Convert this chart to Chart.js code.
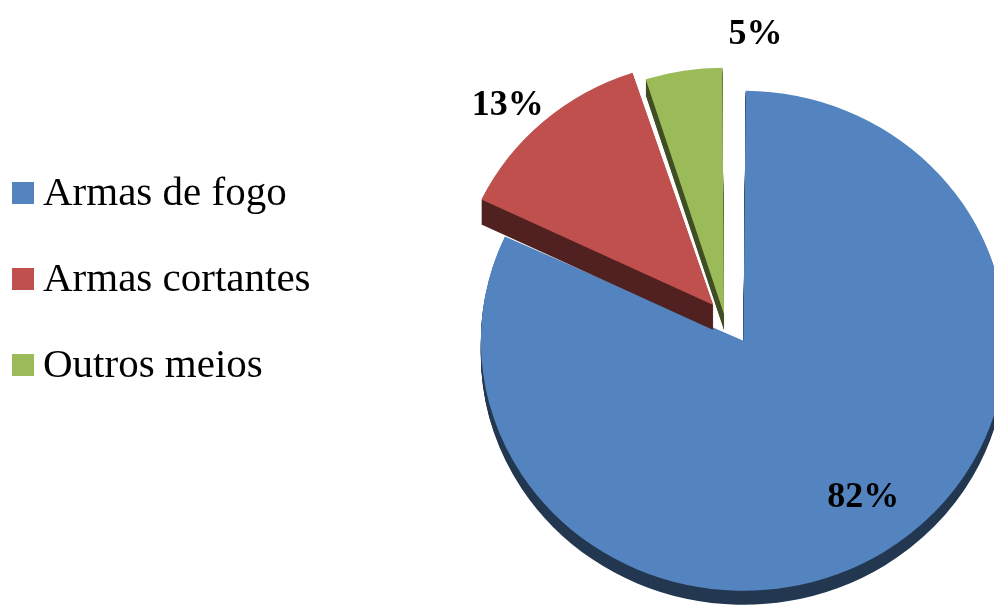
<!DOCTYPE html>
<html lang="pt">
<head>
<meta charset="utf-8">
<title>Meios utilizados</title>
<script src="https://cdn.jsdelivr.net/npm/chart.js@4.4.1/dist/chart.umd.min.js"></script>
<style>
  html, body { margin: 0; padding: 0; background: #fff; }
  #wrap { position: relative; width: 994px; height: 608px; overflow: hidden; }
  #grafico { position: absolute; left: 0; top: 0; }
  #legenda {
    position: absolute; left: 12px; top: 150px; margin: 0; padding: 0; list-style: none;
    font-family: 'Liberation Serif', 'Times New Roman', serif; font-size: 41px; color: #000;
  }
  #legenda li { display: flex; align-items: center; height: 86px; white-space: nowrap; }
  #legenda .caixa { width: 22px; height: 22px; margin-right: 9px; flex: none; }
  #legenda .txt { position: relative; top: -2px; }
</style>
</head>
<body>
<div id="wrap">
  <canvas id="grafico" width="994" height="608"></canvas>
  <ul id="legenda"></ul>
</div>
<script>
const categorias = ['Armas de fogo', 'Armas cortantes', 'Outros meios'];
const valores    = [82, 13, 5];
const cores      = ['#5484BF', '#C0504D', '#9BBB59'];

// afastamento de cada fatia (px), ajuste lateral e espessura da parede 3D
const afastamento = [14, 32, 15];
const ajusteX     = [0, 0, -9];
const espessura   = [14, 25, 16];
// rótulos: fator do raio e desvio angular em graus
const rotuloRaio   = [0.88, 1.32, 1.25];
const rotuloDesvio = [-3.5, -2.7, 12.7];

// a pizza fica um pouco achatada, como vista em perspectiva
const ESTICAR_X = 1.05;

const pizza3d = {
  id: 'pizza3d',
  beforeDatasetDraw(chart, args) {
    const ctx = chart.ctx;
    const arcs = args.meta.data;
    const { x: cx, y: cy } = arcs[0];
    arcs.forEach((arc, i) => {
      ctx.save();
      ctx.translate(cx + ajusteX[i], cy);
      ctx.scale(ESTICAR_X, 1);
      ctx.translate(-cx, -cy);
      // parede lateral: cópias escurecidas deslocadas para baixo
      for (let k = espessura[i]; k > 0; k--) {
        ctx.save();
        ctx.translate(0, k);
        ctx.filter = 'brightness(0.42)';
        arc.draw(ctx);
        ctx.restore();
      }
      arc.draw(ctx);
      ctx.restore();
    });
    return false;
  }
};

const rotulos = {
  id: 'rotulos',
  afterDatasetsDraw(chart) {
    const ctx = chart.ctx;
    const dados = chart.data.datasets[0].data;
    const total = dados.reduce((a, b) => a + b, 0);
    ctx.save();
    ctx.font = 'bold 36px "Liberation Serif", serif';
    ctx.fillStyle = '#000';
    ctx.textAlign = 'center';
    ctx.textBaseline = 'middle';
    chart.getDatasetMeta(0).data.forEach((arc, i) => {
      const { x, y, startAngle, endAngle, outerRadius } =
        arc.getProps(['x', 'y', 'startAngle', 'endAngle', 'outerRadius'], true);
      const ang = (startAngle + endAngle) / 2 + rotuloDesvio[i] * Math.PI / 180;
      const r = outerRadius * rotuloRaio[i];
      ctx.fillText(Math.round(dados[i] / total * 100) + '%',
        x + Math.cos(ang) * r * ESTICAR_X, y + Math.sin(ang) * r);
    });
    ctx.restore();
  }
};

const grafico = new Chart(document.getElementById('grafico'), {
  type: 'pie',
  data: {
    labels: categorias,
    datasets: [{
      data: valores,
      backgroundColor: cores,
      borderWidth: 0,
      radius: 236,
      offset: afastamento.map(d => d * 4)
    }]
  },
  options: {
    responsive: false,
    animation: false,
    layout: { padding: { left: 477, top: 50, right: 0, bottom: 0 } },
    plugins: {
      legend: { display: false },
      tooltip: { enabled: false }
    }
  },
  plugins: [pizza3d, rotulos]
});

// legenda em HTML, montada a partir dos itens do próprio gráfico
const legenda = document.getElementById('legenda');
grafico.options.plugins.legend.labels.generateLabels(grafico).forEach(item => {
  const li = document.createElement('li');
  li.innerHTML = `<span class="caixa" style="background:${item.fillStyle}"></span><span class="txt">${item.text}</span>`;
  legenda.appendChild(li);
});
</script>
</body>
</html>
